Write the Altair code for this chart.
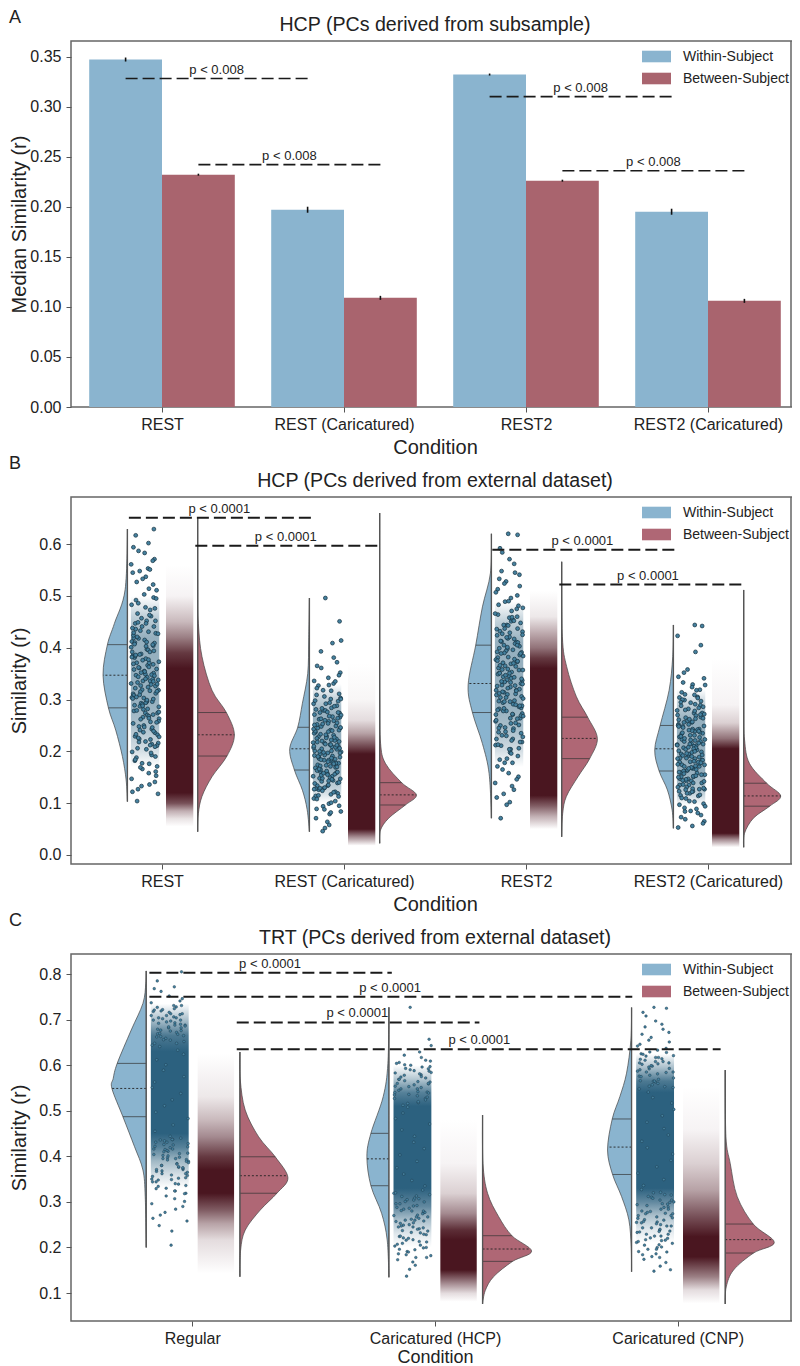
import altair as alt
import pandas as pd

FONT = "Liberation Sans"
BLUE = "#8AB4CF"
RED = "#A9646E"
VRED = "#AF6775"
SERIES = ["Within-Subject", "Between-Subject"]

# ---------- Panel A ----------
a_cats = ["REST", "REST (Caricatured)", "REST2", "REST2 (Caricatured)"]
a_within = [0.347, 0.197, 0.332, 0.195]
a_between = [0.232, 0.109, 0.226, 0.106]
a_within_err = [0.002, 0.003, 0.001, 0.003]
a_between_err = [0.001, 0.002, 0.001, 0.002]
a_sig_x1 = [-0.2, 0.2, 1.8, 2.2]
a_sig_x2 = [0.8, 1.2, 2.8, 3.2]
a_sig_r = [0.328, 0.242, 0.31, 0.236]
a_sig_tx = [0.30, 0.70, 2.30, 2.70]
a_sig_txt = ["p < 0.008"] * 4

# ---------- Panel B : violin outlines (r, density) ----------
b_cats = a_cats
b0w_r = [.629, .512, .447, .406, .347, .284, .241, .190, .145, .103]
b0w_d = [0, 2.3, 13, 20, 24.4, 19, 11.7, 5, 1.3, 0]
b0w_q = [.406, .347, .284]
b0w_qd = [20, 24.4, 19]
b0b_r = [.651, .52, .447, .383, .318, .275, .232, .191, .151, .113, .08, .045]
b0b_d = [0, .1, .7, 4.3, 14.3, 28.7, 36.7, 29.3, 14.3, 4.3, .7, 0]
b0b_q = [.275, .232, .191]
b0b_qd = [28.7, 36.7, 29.3]
b1w_r = [.496, .415, .35, .293, .2465, .205, .164, .125, .088, .045]
b1w_d = [0, .7, 1.7, 7, 11.7, 19.7, 15, 7, 2.3, 0]
b1w_q = [.2465, .205, .164]
b1w_qd = [11.7, 19.5, 15]
b1b_r = [.66, .42, .30, .2156, .177, .1396, .116, .0965, .071, .048, .0225]
b1b_d = [0, .02, .1, .9, 5.7, 22, 36.7, 25.7, 9, .8, 0]
b1b_q = [.1396, .116, .0965]
b1b_qd = [22, 36.7, 25.7]
b2w_r = [.62, .544, .479, .405, .328, .275, .215, .157, .071]
b2w_d = [0, 1, 9, 15.7, 23.3, 19, 9, 2.3, 0]
b2w_q = [.405, .331, .275]
b2w_qd = [15.7, 23.3, 19]
b2b_r = [.566, .4215, .3635, .3057, .266, .225, .186, .151, .113, .08, .035]
b2b_d = [0, .7, 5, 14.7, 26, 35.7, 28, 16.3, 4.7, 1, 0]
b2b_q = [.266, .225, .186]
b2b_qd = [26, 35.7, 28]
b3w_r = [.444, .383, .318, .25, .2027, .1621, .1255, .087, .0515]
b3w_d = [0, .7, 4.3, 13.3, 18.7, 14.3, 6, 1.3, 0]
b3w_q = [.25, .205, .1621]
b3w_qd = [13.3, 18.6, 14.3]
b3b_r = [.5116, .37, .28, .222, .177, .1385, .114, .0942, .071, .0418, .0148]
b3b_d = [0, .02, .15, .9, 5.7, 23, 37, 26, 9.7, .8, 0]
b3b_q = [.1385, .114, .0942]
b3b_qd = [23, 37, 26]

# between-subject strip density bands (r, darkness)
b0b_sr = [.56, .50, .45, .42, .39, .36, .12, .10, .085, .07, .055]
b0b_sd = [0, .05, .3, .55, .85, 1, 1, .75, .35, .12, 0]
b1b_sr = [.37, .30, .26, .235, .215, .195, .05, .035, .018]
b1b_sd = [0, .04, .15, .4, .7, 1, 1, .5, 0]
b2b_sr = [.51, .46, .43, .40, .38, .36, .115, .095, .075, .05]
b2b_sd = [0, .1, .35, .6, .85, 1, 1, .7, .35, 0]
b3b_sr = [.38, .29, .255, .225, .205, .042, .03, .015]
b3b_sd = [0, .05, .2, .6, 1, 1, .5, 0]
# within-subject strip density bands
b0w_sr = [.50, .46, .42, .30, .25, .2, .17]
b0w_sd = [0, .3, .5, .5, .4, .2, 0]
b1w_sr = [.33, .30, .27, .17, .13, .10]
b1w_sd = [0, .3, .5, .5, .3, 0]
b2w_sr = [.49, .45, .41, .29, .24, .2, .17]
b2w_sd = [0, .3, .5, .5, .4, .2, 0]
b3w_sr = [.32, .29, .26, .16, .12, .095]
b3w_sd = [0, .3, .5, .5, .3, 0]

# within-subject points read from the strips
b0w_pts = [.629, .617, .602, .594, .587, .583, .571, .568, .561, .553, .551, .548, .545, .537, .533, .527,
           .522, .514, .511, .503, .497, .492, .486, .478, .473, .466, .461, .452, .447, .441, .433, .428,
           .419, .412, .404, .397, .388, .381, .373, .366, .358, .349, .343, .336, .327, .318, .311, .303,
           .296, .287, .281, .274, .263, .257, .248, .243, .236, .229, .224, .216, .211, .204, .199, .193,
           .188, .182, .176, .171, .166, .158, .153, .147, .141, .136, .133, .127, .122, .118, .104]
b0w_body = [.452, .447, .441, .436, .431, .424, .418, .415, .409, .406, .401, .396, .392, .387, .384, .379,
            .376, .371, .368, .363, .359, .355, .351, .347, .344, .34, .336, .333, .329, .326, .322, .319,
            .315, .312, .308, .304, .301, .297, .293, .289, .286, .282, .278, .274, .27, .266, .262, .258,
            .254, .25, .246, .241, .237, .232, .228, .223, .218, .214, .209, .384, .361, .338, .316, .295,
            .392, .348, .305, .41, .371, .33, .291, .268]
b0w_more = [.495, .483, .476, .463, .457, .449, .438, .427, .421, .411, .403, .394, .386, .377, .369, .362,
            .354, .346, .339, .331, .324, .317, .309, .302, .294, .288, .279, .271, .264, .256, .247, .239,
            .233, .226, .219, .212, .206, .197, .19, .184, .177, .169, .161, .429, .382, .335, .299, .352, .407, .276]
b1w_pts = [.496, .451, .414, .409, .393, .381, .372, .365, .361, .352, .347, .342, .336, .331, .327, .322,
           .317, .311, .306, .301, .297, .292, .288, .284, .279, .275, .271, .266, .262, .258, .254, .249,
           .245, .241, .237, .233, .229, .224, .221, .217, .213, .209, .205, .201, .197, .193, .189, .185,
           .181, .177, .173, .169, .165, .161, .157, .152, .148, .144, .139, .134, .129, .124, .119, .114,
           .109, .104, .099, .094, .089, .084, .079, .071, .064, .058, .052, .046]
b1w_body = [.303, .298, .292, .287, .283, .279, .274, .27, .267, .263, .259, .255, .252, .248, .245, .241,
            .238, .235, .231, .228, .225, .222, .219, .216, .213, .21, .207, .204, .201, .198, .195, .192,
            .189, .186, .183, .18, .177, .174, .171, .168, .165, .162, .159, .156, .152, .149, .146, .142,
            .138, .134, .13, .126, .122, .117, .113, .226, .208, .19, .172, .155, .24, .2, .178, .16, .218,
            .183, .148, .264, .128, .21]
b1w_more = [.335, .328, .318, .309, .301, .294, .281, .276, .268, .26, .253, .246, .239, .232, .227, .22,
            .214, .206, .199, .191, .184, .176, .17, .163, .154, .147, .14, .135, .127, .121, .115, .108,
            .101, .095, .088, .082, .275, .243, .212, .187, .158, .129, .251, .197, .166, .143]
b2w_pts = [.62, .618, .592, .584, .571, .562, .548, .545, .541, .533, .528, .524, .519, .513, .507, .501,
           .496, .489, .483, .477, .471, .464, .458, .451, .444, .437, .431, .424, .418, .411, .405, .398,
           .391, .384, .378, .371, .364, .357, .351, .344, .337, .331, .324, .318, .311, .304, .297, .291,
           .284, .278, .271, .264, .258, .251, .244, .238, .231, .224, .218, .211, .204, .198, .191, .184,
           .178, .171, .165, .158, .151, .146, .139, .133, .126, .118, .111, .102, .097, .071]
b2w_body = [.46, .454, .448, .443, .437, .432, .427, .421, .417, .412, .408, .403, .399, .394, .39, .386,
            .381, .377, .373, .369, .365, .361, .357, .353, .349, .345, .341, .338, .334, .33, .326, .322,
            .318, .314, .31, .306, .302, .298, .294, .29, .286, .282, .278, .273, .269, .264, .26, .255,
            .25, .245, .24, .235, .23, .224, .218, .212, .206, .37, .347, .328, .309, .288, .389, .333,
            .296, .41, .351, .272, .375, .315]
b2w_more = [.49, .481, .475, .466, .459, .452, .444, .436, .429, .42, .413, .405, .396, .389, .382, .374,
            .366, .358, .351, .343, .335, .327, .32, .312, .304, .296, .288, .28, .271, .263, .254, .246,
            .237, .228, .221, .213, .204, .196, .186, .178, .425, .392, .359, .317, .283, .401, .34, .268]
b3w_pts = [.444, .442, .423, .405, .392, .358, .352, .344, .341, .333, .329, .324, .319, .314, .309, .304,
           .299, .294, .289, .284, .279, .274, .269, .265, .261, .256, .252, .248, .243, .239, .235, .231,
           .227, .223, .219, .215, .211, .207, .203, .199, .195, .191, .187, .183, .179, .175, .171, .167,
           .163, .159, .155, .151, .147, .143, .139, .135, .131, .127, .123, .119, .114, .109, .104, .099,
           .094, .089, .084, .081, .077, .073, .069, .065, .061, .056, .053]
b3w_body = [.305, .3, .295, .291, .286, .282, .278, .274, .27, .266, .263, .259, .256, .252, .249, .246,
            .243, .24, .237, .234, .231, .228, .225, .222, .219, .216, .213, .21, .207, .204, .201, .198,
            .195, .192, .189, .186, .183, .18, .177, .174, .171, .168, .165, .162, .158, .155, .151, .147,
            .143, .139, .135, .131, .127, .123, .119, .115, .223, .205, .187, .169, .152, .241, .196, .174,
            .16, .214, .179, .146, .262, .129]
b3w_more = [.328, .318, .31, .303, .297, .288, .28, .272, .264, .257, .25, .242, .236, .229, .221, .214,
            .208, .2, .193, .186, .178, .172, .164, .157, .15, .142, .136, .128, .122, .116, .11, .103,
            .097, .091, .085, .271, .239, .212, .181, .153, .126, .248, .19, .167, .144]

b_sig_x1 = [-0.182, 0.183, 1.815, 2.183]
b_sig_x2 = [0.82, 1.189, 2.82, 3.19]
b_sig_r = [0.651, 0.597, 0.589, 0.522]
b_sig_tx = [0.315, 0.68, 2.31, 2.67]
b_sig_txt = ["p < 0.0001"] * 4

# ---------- Panel C ----------
c_cats = ["Regular", "Caricatured (HCP)", "Caricatured (CNP)"]
c0w_r = [.807, .7796, .7357, .6772, .6041, .571, .549, .4869, .4211, .37, .3115, .2]
c0w_d = [0, .4, 3.3, 15, 29, 33, 34.3, 23.3, 11.7, 3.3, 1, 0]
c0w_q = [.604, .549, .487]
c0w_qd = [29, 34.3, 23.3]
c0b_r = [.629, .5675, .5016, .443, .399, .353, .319, .282, .238, .194, .1358]
c0b_d = [0, .4, 5.3, 18.7, 35.3, 48, 37, 20.3, 5.3, .7, 0]
c0b_q = [.399, .3575, .319]
c0b_qd = [35.3, 47.5, 37]
c1w_r = [.727, .604, .531, .4505, .399, .3355, .275, .2165, .1344]
c1w_d = [0, 1, 5.7, 18, 22, 18, 7.3, 1.7, 0]
c1w_q = [.4505, .3945, .3355]
c1w_qd = [18, 22, 18]
c1b_r = [.4906, .3846, .319, .268, .2258, .192, .1695, .1358, .1055, .0759]
c1b_d = [0, .4, 5, 16, 29.3, 49, 30, 11, 2.7, 0]
c1b_q = [.2258, .1966, .1695]
c1b_qd = [29.3, 48, 30]
c2w_r = [.7266, .6548, .5826, .531, .482, .4138, .3602, .3118, .2606, .202, .1468]
c2w_d = [0, .7, 5, 11.7, 19.3, 24, 19, 10, 2.7, .4, 0]
c2w_q = [.482, .4203, .3602]
c2w_qd = [19.3, 24, 19]
c2b_r = [.5893, .443, .3845, .3115, .2514, .2112, .1878, .1505, .1134, .0759]
c2b_d = [0, .7, 5, 12, 28, 49, 28.3, 8.3, 1, 0]
c2b_q = [.2514, .2172, .1878]
c2b_qd = [28, 48, 28.3]

c0b_sr = [.626, .5308, .4796, .443, .399, .37, .319, .282, .2526, .216, .1431]
c0b_sd = [0, .1, .3, .5, .85, 1, 1, .7, .4, .15, 0]
c1b_sr = [.4795, .3846, .3187, .2748, .238, .216, .1505, .1212, .0993, .081]
c1b_sd = [0, .05, .2, .5, .9, 1, 1, .5, .15, 0]
c2b_sr = [.553, .458, .3846, .3261, .2675, .2236, .1797, .1358, .1066, .0773]
c2b_sd = [0, .05, .2, .4, .75, 1, 1, .55, .15, 0]
c0w_sr = [.735, .70, .665, .63, .45, .42, .39, .36, .33]
c0w_sd = [0, .4, .85, 1, 1, .8, .45, .2, 0]
c1w_sr = [.60, .57, .54, .51, .33, .29, .26, .23, .20]
c1w_sd = [0, .35, .8, 1, 1, .75, .4, .15, 0]
c2w_sr = [.625, .595, .565, .54, .33, .30, .27, .24, .21]
c2w_sd = [0, .4, .85, 1, 1, .75, .4, .15, 0]

c0w_pts = [.805, .785, .772, .768, .762, .752, .746, .741, .737, .731, .728, .722, .718, .713, .709, .704,
           .699, .693, .688, .682, .676, .669, .663, .655, .648, .641, .633, .624, .612, .601, .589, .575,
           .563, .551, .538, .524, .511, .497, .483, .469, .455, .444, .437, .431, .426, .421, .416, .411,
           .406, .402, .397, .393, .389, .384, .38, .376, .371, .367, .362, .358, .353, .349, .344, .339,
           .334, .329, .324, .319, .313, .307, .301, .296, .29, .284, .277, .271, .264, .258, .248, .236, .205]
c0w_body = [.731, .727, .724, .721, .719, .716, .713, .711, .709, .706, .704, .702, .699, .697, .695, .692,
            .69, .688, .686, .684, .682, .679, .677, .675, .672, .67, .668, .665, .662, .659, .656, .652,
            .648, .644, .44, .437, .434, .431, .428, .425, .422, .419, .416, .413, .41, .407, .404, .401,
            .398, .395, .392, .389, .386, .383, .38, .377, .374, .371, .368, .365, .362, .359, .356, .352,
            .348, .344, .34, .336, .33, .324, .318, .35, .375, .395, .415, .436]
c1w_pts = [.727, .657, .643, .629, .622, .617, .611, .606, .601, .597, .592, .588, .583, .579, .574, .569,
           .564, .559, .553, .548, .541, .535, .527, .518, .508, .495, .483, .471, .458, .444, .431, .417,
           .403, .389, .375, .361, .347, .335, .326, .319, .313, .307, .301, .296, .291, .286, .281, .276,
           .271, .267, .262, .258, .253, .249, .245, .241, .237, .232, .228, .224, .22, .216, .212, .207,
           .203, .199, .195, .191, .186, .182, .178, .173, .168, .161, .152, .137]
c1w_body = [.609, .604, .6, .596, .593, .59, .587, .584, .581, .578, .575, .572, .569, .566, .563, .56,
            .557, .554, .551, .548, .545, .542, .539, .536, .533, .53, .527, .524, .52, .516, .512, .32,
            .316, .312, .308, .304, .3, .296, .292, .288, .284, .28, .277, .274, .27, .267, .264, .26,
            .257, .254, .25, .247, .243, .24, .236, .233, .229, .225, .221, .217, .213, .209, .205, .2,
            .196, .19, .184, .178, .56, .54, .28, .26, .305, .245]
c2w_pts = [.727, .725, .716, .708, .697, .69, .684, .679, .672, .668, .661, .655, .651, .646, .642, .637,
           .633, .629, .625, .621, .617, .613, .608, .603, .598, .592, .585, .576, .565, .553, .541, .529,
           .517, .503, .489, .475, .461, .447, .433, .419, .405, .391, .377, .363, .349, .336, .327, .321,
           .315, .31, .304, .299, .294, .289, .284, .279, .274, .27, .265, .261, .256, .252, .247, .243,
           .238, .234, .229, .225, .22, .216, .211, .206, .201, .196, .191, .186, .18, .174, .167, .159, .151, .148]
c2w_body = [.628, .624, .62, .617, .614, .611, .608, .605, .602, .599, .596, .593, .59, .587, .584, .581,
            .578, .575, .572, .569, .566, .563, .56, .557, .554, .551, .548, .32, .316, .312, .308, .304,
            .3, .296, .292, .288, .284, .28, .277, .274, .27, .267, .264, .26, .257, .254, .25, .247,
            .243, .24, .236, .233, .229, .225, .221, .217, .213, .209, .205, .2, .196, .19, .184, .178,
            .605, .585, .565, .295, .275, .255, .235, .215]

c_sig_x1 = [-0.177, -0.177, 0.183, 0.183]
c_sig_x2 = [0.822, 1.813, 1.183, 2.177]
c_sig_r = [0.803, 0.75, 0.694, 0.635]
c_sig_tx = [0.32, 0.815, 0.68, 1.183]
c_sig_txt = ["p < 0.0001"] * 4

# shared strip jitter, fractions of the strip half-width
jitter = [.62, -.41, .13, -.87, .78, -.09, .36, -.66, .93, -.28, .05, -.95, .51, -.53, .24, .84, -.74, -.17, .69, -.36,
          .42, -.82, .09, .97, -.59, .31, -.12, .73, -.46, -.91, .18, .57, -.25, .88, -.69, -.03, .46, -.78, .27, -.5,
          .99, -.21, .66, -.61, .02, .81, -.89, .38, -.33, .54, -.72, .15, -.06, .91, -.43, .75, -.98, .29, -.15, .6,
          -.56, .47, -.8, .21, .85, -.31, -.64, .11, .7, -.93, .34, -.19, .95, -.48, .07, -.7, .58, -.38, .26, -.84, .03]

W_DARK = (44, 97, 127)
B_DARK = (74, 22, 32)


def mix(rgb, d):
    v = [round(255 + (c - 255) * d) for c in rgb]
    return "#%02x%02x%02x" % tuple(v)


def x_enc(field, domain, cats, lp=4, tp=5, ts=20, tick=5):
    lookup = "[" + ",".join('"%s"' % c for c in cats) + "][datum.value]"
    return alt.X(field, type="quantitative", scale=alt.Scale(domain=domain, nice=False, zero=False),
                 axis=alt.Axis(title="Condition", values=list(range(len(cats))), labelExpr=lookup, grid=False,
                               labelPadding=lp, titlePadding=tp, titleFontSize=ts, tickSize=tick))


def y_enc(field, domain, vals, title, fmt, h):
    return alt.Y(field, type="quantitative", scale=alt.Scale(domain=domain, nice=False, zero=False),
                 axis=alt.Axis(title=title, values=vals, format=fmt, grid=False, titleX=-42, titleY=h / 2,
                               labelPadding=5))


def panel_title(text, off):
    return alt.TitleParams(text=text, font=FONT, fontSize=19.6, fontWeight="normal", color="#222",
                           anchor="middle", offset=off)


def legend():
    return alt.Legend(title=None, orient="none", legendX=578, legendY=8,
                      symbolType="M-2,-0.8H2V0.8H-2Z", symbolSize=210, symbolStrokeWidth=0,
                      symbolOpacity=1, rowPadding=7, labelFontSize=14, labelFont=FONT,
                      labelColor="#222", labelOffset=19)


def color_enc(fill_red):
    return alt.Color("series:N", scale=alt.Scale(domain=SERIES, range=[BLUE, fill_red]), legend=legend())


def letter(txt, ypos):
    return alt.Chart(pd.DataFrame({"t": [txt]})).mark_text(
        font=FONT, fontSize=18, align="left", baseline="middle", color="#222"
    ).encode(text="t:N", x=alt.value(-62), y=alt.value(ypos))


def right_edge(h):
    # the frame's right side, kept inside the page's usable width
    return alt.Chart(pd.DataFrame({"t": [0]})).mark_rule(color="#666", strokeWidth=1.5).encode(
        x=alt.value(720), y=alt.value(0), y2=alt.value(h))


def sig_layers(x1, x2, rs, tx, txt, X, Y, X2, lw):
    df = pd.DataFrame({"x": x1, "x_end": x2, "r": rs, "tx": tx, "txt": txt})
    rule = alt.Chart(df).mark_rule(color="#1a1a1a", strokeWidth=lw, strokeDash=[12, 5]).encode(
        x=X("x"), x2=X2("x_end"), y=Y("r"))
    text = alt.Chart(df).mark_text(font=FONT, fontSize=13, color="#222", dy=-9).encode(
        x=X("tx"), y=Y("r"), text="txt:N")
    return [rule, text]


def band_layer(cat, offset, hw, sr, sd, rgb, X, Y, X2, Y2):
    hi, lo = max(sr), min(sr)
    stops = [alt.GradientStop(color=mix(rgb, d), offset=(hi - r) / (hi - lo)) for r, d in zip(sr, sd)]
    df = pd.DataFrame({"x": [cat + offset - hw], "x_end": [cat + offset + hw], "r": [lo], "r_end": [hi]})
    grad = alt.LinearGradient(gradient="linear", stops=stops, x1=0, x2=0, y1=0, y2=1)
    return alt.Chart(df).mark_rect(color=grad).encode(x=X("x"), x2=X2("x_end"), y=Y("r"), y2=Y2("r_end"))


def raincloud(cats, domain_y, ticks, fmt, title, violins, px_per_cat, pts_size, pts_sw, sig, lw, ltr, ly, off, xopts):
    xdom = [-0.5, len(cats) - 0.5]
    X = lambda f: x_enc(f, xdom, cats, **xopts)
    Y = lambda f: y_enc(f, domain_y, ticks, "Similarity (r)", fmt, 367)
    X2 = lambda f: alt.X2(f)
    Y2 = lambda f: alt.Y2(f)
    areas, quarts, bases, points, bands = [], [], [], [], []
    for i, (cat, kind, rs, ds, qs, qds, sr, sd, pts) in enumerate(violins):
        within = kind == 0
        base = cat + (-0.19 if within else 0.196)
        sign = -1 if within else 1
        for r, d in zip(rs, ds):
            areas.append({"id": i, "series": SERIES[kind], "r": r, "x": base, "x_end": base + sign * d / px_per_cat})
        for j, (q, qd) in enumerate(zip(qs, qds)):
            quarts.append({"r": q, "x": base, "x_end": base + sign * qd / px_per_cat, "kind": "median" if j == 1 else "q"})
        bases.append({"x": base, "r": min(rs), "r_end": max(rs)})
        if within:
            bands.append(band_layer(cat, -0.093, 0.078, sr, sd, W_DARK, X, Y, X2, Y2))
        else:
            bands.append(band_layer(cat, 0.097, 0.075, sr, sd, B_DARK, X, Y, X2, Y2))
        for j, r in enumerate(pts):
            jt = jitter[(j * 7 + i * 13) % len(jitter)]
            points.append({"x": cat - 0.093 + jt * 0.078, "r": r})
    area = alt.Chart(pd.DataFrame(areas)).mark_area(
        orient="horizontal", interpolate="cardinal", opacity=1, stroke="#444", strokeWidth=0.7
    ).encode(x=X("x"), x2=X2("x_end"), y=Y("r"), detail="id:N", color=color_enc(VRED))
    pt = alt.Chart(pd.DataFrame(points)).mark_point(
        filled=True, size=pts_size, color="#45819F", stroke="#16313F", strokeWidth=pts_sw, opacity=1
    ).encode(x=X("x"), y=Y("r"))
    qdf = pd.DataFrame(quarts)
    q1 = alt.Chart(qdf[qdf.kind == "q"]).mark_rule(color="#333", strokeWidth=0.7).encode(
        x=X("x"), x2=X2("x_end"), y=Y("r"))
    q2 = alt.Chart(qdf[qdf.kind == "median"]).mark_rule(color="#222", strokeWidth=0.9, strokeDash=[2, 2]).encode(
        x=X("x"), x2=X2("x_end"), y=Y("r"))
    bl = alt.Chart(pd.DataFrame(bases)).mark_rule(color="#555", strokeWidth=1.3).encode(
        x=X("x"), y=Y("r"), y2=Y2("r_end"))
    layers = bands + [pt, area, q1, q2, bl] + sig_layers(*sig, X, Y, X2, lw) + [letter(ltr, ly), right_edge(367)]
    return alt.layer(*layers).properties(width=728, height=367, title=panel_title(title, off))


# ---------- build panel A ----------
xa = [-0.5, 3.5]
XA = lambda f: x_enc(f, xa, a_cats)
YA = lambda f: y_enc(f, [0, 0.3655], [0, .05, .10, .15, .20, .25, .30, .35], "Median Similarity (r)", ".2f", 366)
bars = []
for i in range(4):
    bars.append({"series": SERIES[0], "x": i - 0.4, "x_end": i, "v": a_within[i], "lo": a_within[i] - a_within_err[i],
                 "hi": a_within[i] + a_within_err[i], "c": i - 0.2})
    bars.append({"series": SERIES[1], "x": i, "x_end": i + 0.4, "v": a_between[i], "lo": a_between[i] - a_between_err[i],
                 "hi": a_between[i] + a_between_err[i], "c": i + 0.2})
bdf = pd.DataFrame(bars)
bar_layer = alt.Chart(bdf).mark_rect().encode(
    x=XA("x"), x2=alt.X2("x_end"), y=YA("v"), y2=alt.datum(0), color=color_enc(RED))
err_layer = alt.Chart(bdf).mark_rule(color="#111", strokeWidth=1.6).encode(x=XA("c"), y=YA("lo"), y2=alt.Y2("hi"))
panel_a = alt.layer(
    bar_layer, err_layer,
    *sig_layers(a_sig_x1, a_sig_x2, a_sig_r, a_sig_tx, a_sig_txt, XA, YA, lambda f: alt.X2(f), 1.6),
    letter("A", -23), right_edge(366),
).properties(width=728, height=366, title=panel_title("HCP (PCs derived from subsample)", -27))

b_violins = [
    (0, 0, b0w_r, b0w_d, b0w_q, b0w_qd, b0w_sr, b0w_sd, b0w_pts + b0w_body + b0w_more),
    (0, 1, b0b_r, b0b_d, b0b_q, b0b_qd, b0b_sr, b0b_sd, []),
    (1, 0, b1w_r, b1w_d, b1w_q, b1w_qd, b1w_sr, b1w_sd, b1w_pts + b1w_body + b1w_more),
    (1, 1, b1b_r, b1b_d, b1b_q, b1b_qd, b1b_sr, b1b_sd, []),
    (2, 0, b2w_r, b2w_d, b2w_q, b2w_qd, b2w_sr, b2w_sd, b2w_pts + b2w_body + b2w_more),
    (2, 1, b2b_r, b2b_d, b2b_q, b2b_qd, b2b_sr, b2b_sd, []),
    (3, 0, b3w_r, b3w_d, b3w_q, b3w_qd, b3w_sr, b3w_sd, b3w_pts + b3w_body + b3w_more),
    (3, 1, b3b_r, b3b_d, b3b_q, b3b_qd, b3b_sr, b3b_sd, []),
]
panel_b = raincloud(b_cats, [-0.0174, 0.691], [0, .1, .2, .3, .4, .5, .6], ".1f",
                    "HCP (PCs derived from external dataset)", b_violins, 182, 15, 0.7,
                    (b_sig_x1, b_sig_x2, b_sig_r, b_sig_tx, b_sig_txt), 2, "B", -33, -37, {})

c_violins = [
    (0, 0, c0w_r, c0w_d, c0w_q, c0w_qd, c0w_sr, c0w_sd, c0w_pts + c0w_body),
    (0, 1, c0b_r, c0b_d, c0b_q, c0b_qd, c0b_sr, c0b_sd, []),
    (1, 0, c1w_r, c1w_d, c1w_q, c1w_qd, c1w_sr, c1w_sd, c1w_pts + c1w_body),
    (1, 1, c1b_r, c1b_d, c1b_q, c1b_qd, c1b_sr, c1b_sd, []),
    (2, 0, c2w_r, c2w_d, c2w_q, c2w_qd, c2w_sr, c2w_sd, c2w_pts + c2w_body),
    (2, 1, c2b_r, c2b_d, c2b_q, c2b_qd, c2b_sr, c2b_sd, []),
]
panel_c = raincloud(c_cats, [0.0386, 0.8441], [.1, .2, .3, .4, .5, .6, .7, .8], ".1f",
                    "TRT (PCs derived from external dataset)", c_violins, 242.5, 7, 0.4,
                    (c_sig_x1, c_sig_x2, c_sig_r, c_sig_tx, c_sig_txt), 2, "C", -33, -37,
                    {"lp": 4, "tp": 2, "ts": 18})

chart = alt.vconcat(panel_a, panel_b, panel_c, spacing=90, bounds="flush").resolve_scale(
    color="independent"
).properties(padding={"left": 0, "top": 0, "right": -8, "bottom": 0}).configure_view(
    stroke="#666", strokeWidth=1.5
).configure_axis(
    labelFont=FONT, labelFontSize=16, labelColor="#222", titleFont=FONT, titleFontSize=20, titleColor="#222",
    titleFontWeight="normal", domain=False, tickColor="#555", tickSize=5, tickWidth=1, labelPadding=3
).configure_axisY(titlePadding=3)

chart.save("out.html", embed_options={"renderer": "svg", "actions": False})
